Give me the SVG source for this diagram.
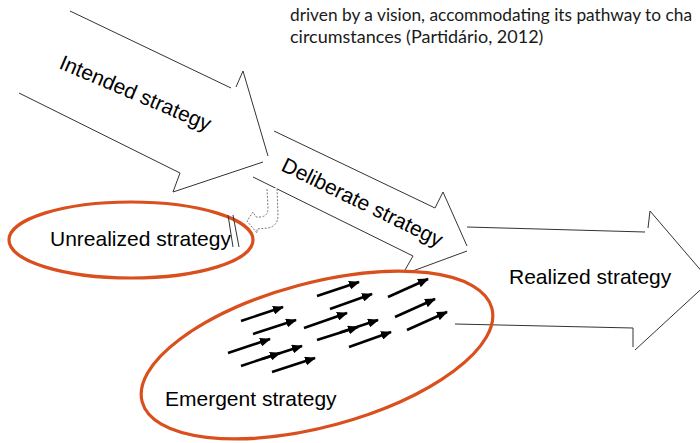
<svg xmlns="http://www.w3.org/2000/svg" width="700" height="443" viewBox="0 0 700 443">
<defs>
<style>
.out{fill:none;stroke:#333;stroke-width:1}
.ell{fill:none;stroke:#D9501E;stroke-width:3.2}
.lbl{font-family:"Liberation Sans",Arial,sans-serif;font-size:21px;fill:#000}
.note{font-family:Lato,"Open Sans",sans-serif;font-size:18px;fill:#1a1a1a}
.em{fill:none;stroke:#000;stroke-width:2.6;marker-end:url(#ah)}
</style>
<marker id="ah" markerUnits="userSpaceOnUse" markerWidth="11" markerHeight="9" refX="10" refY="4.5" orient="auto">
<path d="M0,0 L11,4.5 L0,9 z" fill="#000"/>
</marker>
</defs>
<rect width="700" height="443" fill="#fff"/>

<g id="note">
<text class="note" x="290" y="21" textLength="402" lengthAdjust="spacingAndGlyphs">driven by a vision, accommodating its pathway to cha</text>
<text class="note" x="290" y="43">circumstances (Partidário, 2012)</text>
</g>

<g id="intended">
<polyline class="out" points="70,11 231,88"/>
<polyline class="out" points="236,87 243,71 268,156"/>
<polyline class="out" points="263,162 173,192 180,173 19,93"/>
<text class="lbl" transform="translate(58,68) rotate(23)">Intended strategy</text>
</g>

<g id="deliberate">
<polyline class="out" points="274,131 435,208 443,192 467,246"/>
<polyline class="out" points="467,251 410,272"/>
<polyline class="out" points="253,177 413,256 405,270"/>
<text class="lbl" transform="translate(280,170) rotate(26)">Deliberate strategy</text>
</g>

<g id="realized">
<polyline class="out" points="467,227 645,232"/>
<polyline class="out" points="648,228 650,211 710,281 635,350"/>
<polyline class="out" points="455,324 633,328 633,347"/>
<text class="lbl" x="509" y="284">Realized strategy</text>
</g>

<g id="unrealized">
<ellipse class="ell" cx="131" cy="240" rx="122" ry="38"/>
<text class="lbl" x="50" y="246">Unrealized strategy</text>
<line class="out" x1="228" y1="215" x2="233" y2="247"/>
<line class="out" x1="233" y1="215" x2="239" y2="247"/>
</g>

<g id="emergent">
<ellipse class="ell" cx="317" cy="355" rx="181" ry="72" transform="rotate(-15 317 355)"/>
<text class="lbl" x="165" y="406">Emergent strategy</text>
</g>

<g id="connectors">
<path d="M267,189 L268,208 Q268,216 261,217 L256,217 L253,212 L247,221 L257,233 L257,229 L268,228 Q278,226 278,215 L277,188" fill="#fff" stroke="#777" stroke-width="1" stroke-dasharray="2,1.5"/>
<line class="em" x1="317" y1="296" x2="359" y2="282"/>
<line class="em" x1="330" y1="309" x2="372" y2="294"/>
<line class="em" x1="388" y1="297" x2="428" y2="279"/>
<line class="em" x1="241" y1="321" x2="283" y2="307"/>
<line class="em" x1="253" y1="334" x2="296" y2="320"/>
<line class="em" x1="304" y1="328" x2="347" y2="313"/>
<line class="em" x1="317" y1="340" x2="358" y2="327"/>
<line class="em" x1="340" y1="332.5" x2="378" y2="320"/>
<line class="em" x1="395" y1="317" x2="435" y2="299"/>
<line class="em" x1="228" y1="353" x2="270" y2="339"/>
<line class="em" x1="241" y1="366" x2="280" y2="353"/>
<line class="em" x1="262" y1="359" x2="302" y2="346"/>
<line class="em" x1="272" y1="372" x2="315" y2="358"/>
<line class="em" x1="349" y1="347" x2="391" y2="332"/>
<line class="em" x1="407" y1="330" x2="447" y2="312"/>
</g>
</svg>
